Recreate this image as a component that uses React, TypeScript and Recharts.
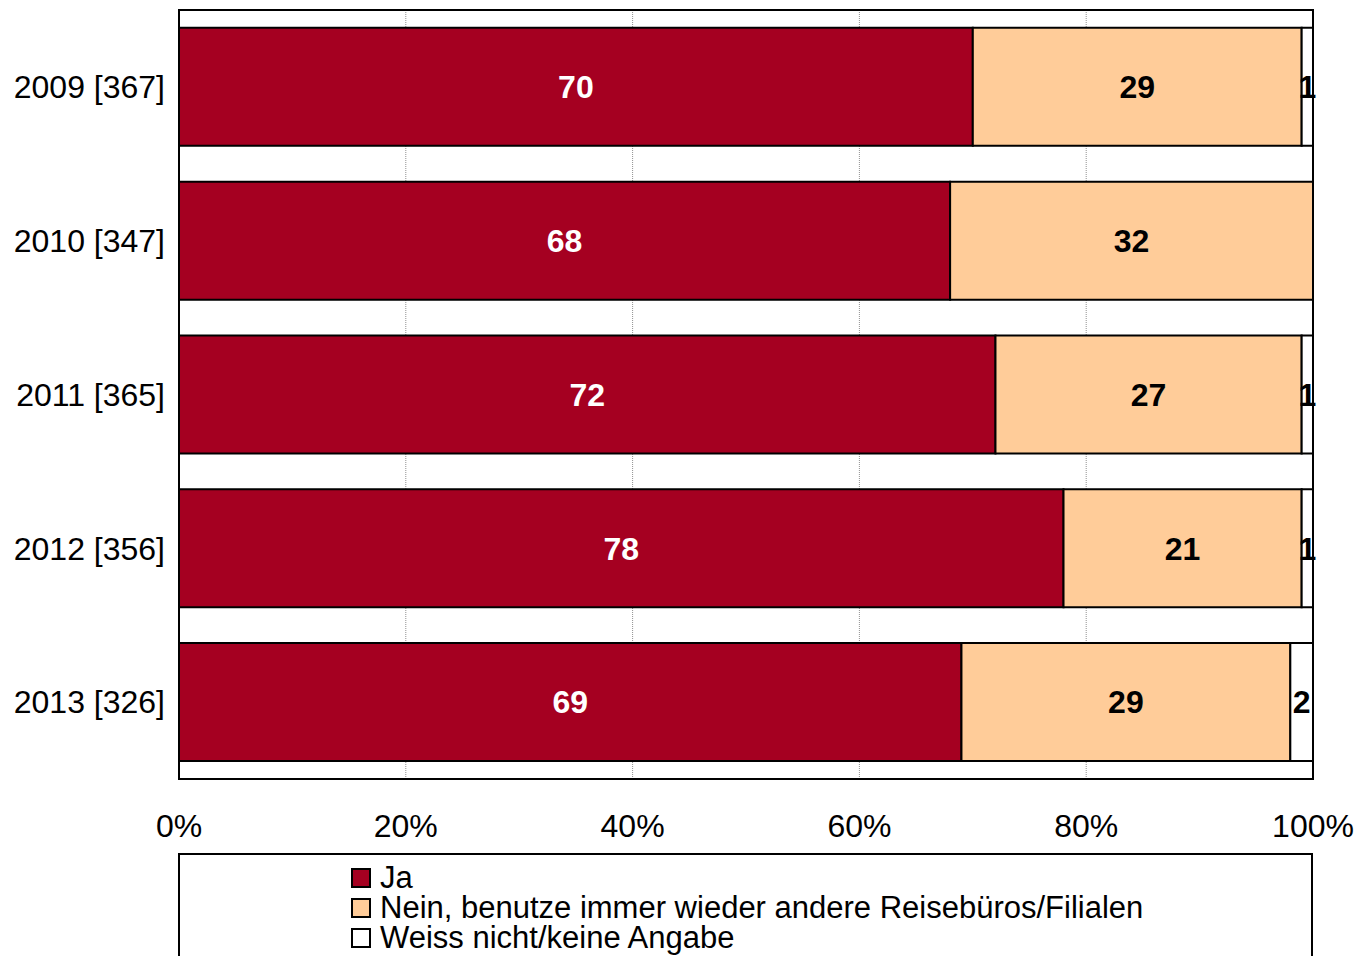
import {
  Bar,
  BarChart,
  CartesianGrid,
  LabelList,
  Legend,
  ReferenceArea,
  XAxis,
  YAxis,
} from "recharts";

const years = ["2009 [367]", "2010 [347]", "2011 [365]", "2012 [356]", "2013 [326]"];
const ja = [70, 68, 72, 78, 69];
const nein = [29, 32, 27, 21, 29];
const weissNicht = [1, 0, 1, 1, 2];
const xTicks = [0, 20, 40, 60, 80, 100];

const seriesNames = [
  "Ja",
  "Nein, benutze immer wieder andere Reisebüros/Filialen",
  "Weiss nicht/keine Angabe",
];
const colors = ["#A50021", "#FFCC99", "#FFFFFF"];

const rows = years.map((year, i) => ({
  year,
  ja: ja[i],
  nein: nein[i],
  weiss: weissNicht[i],
}));

const font = '"Liberation Sans", Arial, sans-serif';

const hideZero = (v: unknown) => (Number(v) === 0 ? "" : String(v));

function LegendBox() {
  return (
    <div
      style={{
        boxSizing: "border-box",
        width: 1135,
        height: 117,
        border: "2px solid #000",
        background: "#fff",
        paddingTop: 8,
        paddingLeft: 171,
        fontFamily: font,
        fontSize: 31,
        lineHeight: "30px",
        color: "#000",
      }}
    >
      {seriesNames.map((name, i) => (
        <div key={name} style={{ display: "flex", alignItems: "center", height: 30 }}>
          <span
            style={{
              boxSizing: "border-box",
              width: 20,
              height: 20,
              border: "2px solid #000",
              background: colors[i],
              marginRight: 9,
              flex: "none",
            }}
          />
          <span style={{ whiteSpace: "nowrap" }}>{name}</span>
        </div>
      ))}
    </div>
  );
}

export default function App() {
  const labelStyle = { fontFamily: font, fontSize: 32, fontWeight: 700 };
  return (
    <div
      style={{
        position: "absolute",
        left: 0,
        top: 0,
        width: 1361,
        height: 956,
        overflow: "hidden",
        background: "#fff",
      }}
    >
      <BarChart
        width={1361}
        height={956}
        data={rows}
        layout="vertical"
        barCategoryGap="11.6%"
        margin={{ top: 10, right: 48, bottom: 0, left: 0 }}
      >
        <CartesianGrid
          horizontal={false}
          stroke="#909090"
          strokeDasharray="1 1"
        />
        <XAxis
          type="number"
          domain={[0, 100]}
          ticks={xTicks}
          tickFormatter={(v) => `${v}%`}
          height={60}
          tickSize={0}
          tickMargin={35}
          axisLine={false}
          tick={{ fill: "#000", fontSize: 32, fontFamily: font }}
        />
        <YAxis
          type="category"
          dataKey="year"
          width={179}
          tickSize={0}
          tickMargin={14}
          axisLine={false}
          tick={{ fill: "#000", fontSize: 32, fontFamily: font }}
        />
        <Legend
          verticalAlign="bottom"
          content={() => <LegendBox />}
          wrapperStyle={{ left: 178, top: 853, bottom: "auto", width: 1135, height: 117 }}
        />
        <Bar
          dataKey="ja"
          name={seriesNames[0]}
          stackId="a"
          fill={colors[0]}
          stroke="#000"
          strokeWidth={2}
          isAnimationActive={false}
        >
          <LabelList dataKey="ja" position="center" fill="#fff" style={labelStyle} formatter={hideZero} />
        </Bar>
        <Bar
          dataKey="nein"
          name={seriesNames[1]}
          stackId="a"
          fill={colors[1]}
          stroke="#000"
          strokeWidth={2}
          isAnimationActive={false}
        >
          <LabelList dataKey="nein" position="center" fill="#000" style={labelStyle} formatter={hideZero} />
        </Bar>
        <Bar
          dataKey="weiss"
          name={seriesNames[2]}
          stackId="a"
          fill={colors[2]}
          stroke="#000"
          strokeWidth={2}
          isAnimationActive={false}
        >
          <LabelList dataKey="weiss" position="center" fill="#000" style={labelStyle} formatter={hideZero} />
        </Bar>
        <ReferenceArea
          x1={0}
          x2={100}
          fill="none"
          fillOpacity={0}
          stroke="#000"
          strokeWidth={2}
        />
      </BarChart>
    </div>
  );
}
